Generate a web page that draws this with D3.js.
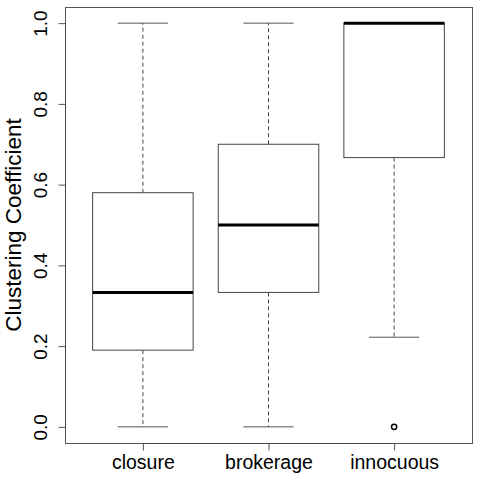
<!DOCTYPE html>
<html>
<head>
<meta charset="utf-8">
<script src="https://cdn.jsdelivr.net/npm/d3@7"></script>
<style>
  body { margin: 0; background: #fff; }
  text { font-family: "Liberation Sans", Arial, sans-serif; }
</style>
</head>
<body>
<svg id="chart" width="480" height="480"></svg>
<script>
// box stats
const groups = ["closure", "brokerage", "innocuous"];
const lowWhisker = [0, 0, 0.222];
const q1 = [0.19, 0.333, 0.667];
const median = [0.333, 0.5, 1.0];
const q3 = [0.58, 0.7, 1.0];
const highWhisker = [1.0, 1.0, 1.0];
const outliers = [[], [], [0]];
const yTicks = [0, 0.2, 0.4, 0.6, 0.8, 1.0];

const margin = {left: 65, right: 8, top: 7, bottom: 37};
const width = 480 - margin.left - margin.right;
const height = 480 - margin.top - margin.bottom;

const svg = d3.select("#chart");
const g = svg.append("g")
    .attr("transform", `translate(${margin.left}, ${margin.top})`);

// R style: extend ranges by 4%
let x = d3.scaleLinear()
    .domain([0.5 - 0.12, groups.length + 0.5 + 0.12])
    .range([0, width]);

let y = d3.scaleLinear()
    .domain([-0.04, 1.04])
    .range([height, 0]);

const boxW = x(1.4) - x(1);   // half of 0.8 box width
const capW = boxW / 2;

let boxes = g.selectAll("g.box")
    .data(groups)
    .enter()
    .append("g")
    .attr("class", "box");

// whiskers
boxes.append("line")
    .attr("x1", (d, i) => x(i + 1))
    .attr("x2", (d, i) => x(i + 1))
    .attr("y1", (d, i) => y(q3[i]))
    .attr("y2", (d, i) => y(highWhisker[i]))
    .attr("stroke", "#444")
    .attr("stroke-dasharray", "4,3");

boxes.append("line")
    .attr("x1", (d, i) => x(i + 1))
    .attr("x2", (d, i) => x(i + 1))
    .attr("y1", (d, i) => y(q1[i]))
    .attr("y2", (d, i) => y(lowWhisker[i]))
    .attr("stroke", "#444")
    .attr("stroke-dasharray", "4,3");

// caps
[highWhisker, lowWhisker].forEach(arr => {
    boxes.append("line")
        .attr("x1", (d, i) => x(i + 1) - capW)
        .attr("x2", (d, i) => x(i + 1) + capW)
        .attr("y1", (d, i) => y(arr[i]))
        .attr("y2", (d, i) => y(arr[i]))
        .attr("stroke", "#555");
});

// box
boxes.append("rect")
    .attr("x", (d, i) => x(i + 1) - boxW)
    .attr("y", (d, i) => y(q3[i]))
    .attr("width", boxW * 2)
    .attr("height", (d, i) => y(q1[i]) - y(q3[i]))
    .attr("fill", "none")
    .attr("stroke", "#444");

// median
boxes.append("line")
    .attr("x1", (d, i) => x(i + 1) - boxW)
    .attr("x2", (d, i) => x(i + 1) + boxW)
    .attr("y1", (d, i) => y(median[i]))
    .attr("y2", (d, i) => y(median[i]))
    .attr("stroke", "#000")
    .attr("stroke-width", 3);

// outliers
groups.forEach((d, i) => {
    g.selectAll(null)
        .data(outliers[i])
        .enter()
        .append("circle")
        .attr("cx", x(i + 1))
        .attr("cy", v => y(v))
        .attr("r", 2.6)
        .attr("fill", "none")
        .attr("stroke", "#000")
        .attr("stroke-width", 1.5);
});

// frame
g.append("rect")
    .attr("x", 0.5)
    .attr("y", 0.5)
    .attr("width", width)
    .attr("height", height)
    .attr("fill", "none")
    .attr("stroke", "#555");

// y axis
let yAxis = g.append("g")
    .attr("transform", "translate(0.5, 0)")
    .call(d3.axisLeft(y).tickValues(yTicks).tickFormat(d3.format(".1f")).tickSize(7).tickPadding(0));
yAxis.select(".domain").remove();
yAxis.selectAll(".tick line").attr("stroke", "#555");
yAxis.selectAll(".tick text")
    .attr("transform", "rotate(-90)")
    .attr("x", 0)
    .attr("y", -19)
    .attr("dy", "0")
    .attr("text-anchor", "middle")
    .attr("fill", "#000")
    .style("font-size", "19px");
yAxis.append("line")
    .attr("x1", 0).attr("x2", 0)
    .attr("y1", y(0)).attr("y2", y(1))
    .attr("stroke", "#444");

// x axis
let xAxis = g.append("g")
    .attr("transform", `translate(0, ${height + 0.5})`)
    .call(d3.axisBottom(x).tickValues([1, 2, 3]).tickFormat((d, i) => groups[i]).tickSize(7).tickPadding(5));
xAxis.select(".domain").remove();
xAxis.selectAll(".tick line").attr("stroke", "#555");
xAxis.selectAll(".tick text")
    .attr("fill", "#000")
    .style("font-size", "19.5px");
xAxis.append("line")
    .attr("x1", x(1)).attr("x2", x(3))
    .attr("y1", 0).attr("y2", 0)
    .attr("stroke", "#444");

// y title
svg.append("text")
    .attr("transform", `translate(21, ${margin.top + height / 2}) rotate(-90)`)
    .attr("text-anchor", "middle")
    .style("font-size", "22.5px")
    .text("Clustering Coefficient");
</script>
</body>
</html>
